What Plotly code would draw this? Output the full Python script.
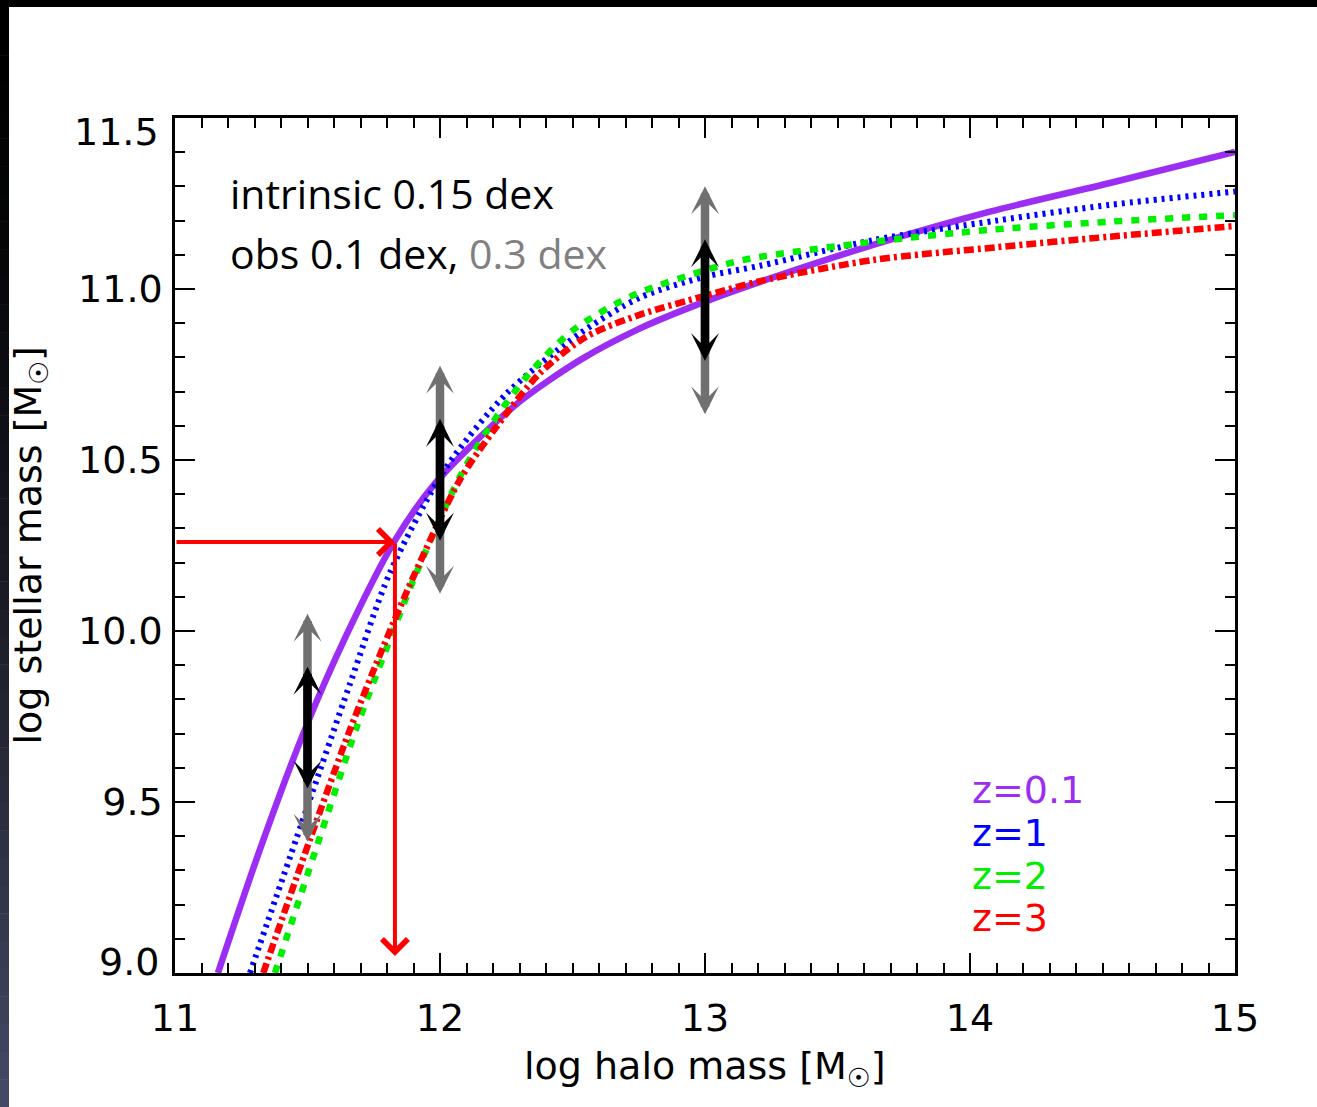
import numpy as np
import plotly.graph_objects as go

# Stellar mass - halo mass relations (log10 M_sun) at four redshifts
mh_z01 = [11.162, 11.32, 11.484, 11.648, 11.83, 11.98, 12.277, 12.528, 12.755, 13.0, 13.208, 13.635, 14.075, 14.528, 15.0]
ms_z01 = [9.00, 9.36, 9.70, 9.99, 10.265, 10.43, 10.656, 10.792, 10.885, 10.963, 11.021, 11.129, 11.226, 11.31, 11.401]

mh_z1 = [11.283, 11.497, 11.66, 11.811, 12.025, 12.252, 12.528, 12.755, 13.0, 13.208, 13.635, 14.1, 14.528, 15.0]
ms_z1 = [9.00, 9.48, 9.845, 10.17, 10.48, 10.695, 10.87, 10.975, 11.036, 11.068, 11.143, 11.20, 11.246, 11.285]

mh_z2 = [11.377, 11.535, 11.686, 11.786, 11.90, 12.075, 12.189, 12.327, 12.503, 12.73, 13.006, 13.157, 13.635, 14.075, 14.528, 15.0]
ms_z2 = [9.00, 9.37, 9.72, 9.925, 10.15, 10.451, 10.598, 10.744, 10.88, 10.982, 11.056, 11.087, 11.138, 11.173, 11.197, 11.216]

mh_z3 = [11.333, 11.509, 11.66, 11.786, 11.90, 12.075, 12.214, 12.377, 12.553, 12.755, 13.0, 13.208, 13.635, 14.1, 14.528, 15.0]
ms_z3 = [9.00, 9.39, 9.711, 9.954, 10.159, 10.442, 10.598, 10.754, 10.861, 10.925, 10.98, 11.023, 11.085, 11.122, 11.153, 11.184]

redshift_labels = ["z=0.1", "z=1", "z=2", "z=3"]
curve_colors = ["#9b2ef2", "#0000ff", "#00ee00", "#ff0000"]

# Scatter budget (dex)
sigma_intrinsic = 0.15
sigma_obs = [0.1, 0.3]

# Halo masses where the scatter is illustrated, and the relation there
arrow_mh = [11.5, 12.0, 13.0]
arrow_ms = [9.715, 10.44, 10.965]

# Reading a halo mass off the relation
read_ms = 10.26
read_mh = 11.83
read_from_mh = 11.0
read_to_ms = 9.05

x_ticks = [11, 12, 13, 14, 15]
y_ticks = [9.0, 9.5, 10.0, 10.5, 11.0, 11.5]

W, H = 1317, 1107
L, R, T, B = 175, 82, 118, 134
PW, PH = W - L - R, H - T - B


def paper_x(px):
    return (px - L) / PW


def paper_y(py):
    return (H - B - py) / PH


fig = go.Figure()

styles = [
    dict(width=6.5, dash="solid"),
    dict(width=6, dash="3px,5px"),
    dict(width=6.5, dash="8px,9px"),
    dict(width=6.5, dash="10px,4px,3px,4px"),
]
for mh, ms, col, st, name in zip(
    [mh_z01, mh_z1, mh_z2, mh_z3],
    [ms_z01, ms_z1, ms_z2, ms_z3],
    curve_colors, styles, redshift_labels,
):
    fig.add_trace(go.Scatter(
        x=mh, y=ms, mode="lines", name=name, showlegend=False,
        line=dict(color=col, width=st["width"], dash=st["dash"], shape="spline", smoothing=0.8),
        hoverinfo="skip",
    ))

annotations = []

# double-headed scatter arrows: total = intrinsic (+) observational in quadrature
for sig, col in [(sigma_obs[1], "#707070"), (sigma_obs[0], "#000000")]:
    half = float(np.hypot(sigma_intrinsic, sig))
    for mh, ms in zip(arrow_mh, arrow_ms):
        annotations.append(dict(
            x=mh, y=ms + half, ax=mh, ay=ms - half,
            xref="x", yref="y", axref="x", ayref="y",
            text="", showarrow=True, arrowside="end+start",
            arrowhead=3, startarrowhead=3, arrowsize=0.55, startarrowsize=0.55,
            arrowwidth=8.5, arrowcolor=col, standoff=0, startstandoff=0,
        ))

# red read-off arrows
for x_tip, y_tip, x_tail, y_tail in [
    (read_mh, read_ms, read_from_mh, read_ms),
    (read_mh, read_to_ms, read_mh, read_ms),
]:
    annotations.append(dict(
        x=x_tip, y=y_tip, ax=x_tail, ay=y_tail,
        xref="x", yref="y", axref="x", ayref="y",
        text="", showarrow=True, arrowhead=4, arrowsize=1.25, arrowwidth=4,
        arrowcolor="#ff0000", standoff=0,
    ))

# scatter description
txt_font = dict(family="Open Sans", size=41, color="#000000")
annotations.append(dict(
    x=11.2, y=11.281, xref="x", yref="y", xanchor="left", yanchor="middle",
    text=f"intrinsic {sigma_intrinsic:g} dex", showarrow=False, font=txt_font,
))
annotations.append(dict(
    x=11.2, y=11.105, xref="x", yref="y", xanchor="left", yanchor="middle",
    text=f"obs {sigma_obs[0]:g} dex, <span style='color:#808080'>{sigma_obs[1]:g} dex</span>",
    showarrow=False, font=txt_font,
))

# redshift key
key_y = [9.535, 9.409, 9.284, 9.161]
for lab, col, yy in zip(redshift_labels, curve_colors, key_y):
    annotations.append(dict(
        x=14.0, y=yy, xref="x", yref="y", xanchor="left", yanchor="middle",
        text=lab, showarrow=False,
        font=dict(family="DejaVu Sans", size=38, color=col),
    ))

# end labels of the y axis sit just inside the frame
tick_font = dict(family="DejaVu Sans", size=38, color="#000000")
for val, shift in [(y_ticks[-1], -14), (y_ticks[0], 11)]:
    annotations.append(dict(
        x=paper_x(161), y=val, xref="paper", yref="y", xanchor="right", yanchor="middle",
        yshift=shift, text=f"{val:.1f}", showarrow=False, font=tick_font,
    ))

# axis titles
ax_font = dict(family="DejaVu Sans", size=38, color="#000000")
annotations.append(dict(
    x=0.5, y=paper_y(1068), xref="paper", yref="paper", xanchor="center", yanchor="middle",
    text="log halo mass [M<sub>☉</sub>]", showarrow=False, font=ax_font,
))
annotations.append(dict(
    x=paper_x(30), y=0.5, xref="paper", yref="paper", xanchor="center", yanchor="middle",
    text="log stellar mass [M<sub>☉</sub>]", textangle=-90, showarrow=False, font=ax_font,
))

# dark slide frame along the top and left edges
shapes = [dict(type="rect", xref="paper", yref="paper",
               x0=paper_x(0), x1=paper_x(W), y0=paper_y(7), y1=paper_y(0),
               fillcolor="#000000", line=dict(width=0), layer="above")]
n_band = 40
for i in range(n_band):
    t = (i + 0.5) / n_band
    f = t ** 1.6
    c = (int(72 * f), int(75 * f), int(104 * f))
    shapes.append(dict(
        type="rect", xref="paper", yref="paper",
        x0=paper_x(0), x1=paper_x(9),
        y0=paper_y((i + 1) * H / n_band + 0.5), y1=paper_y(i * H / n_band),
        fillcolor=f"rgb{c}", line=dict(width=0), layer="above",
    ))

axis_common = dict(
    showline=True, linewidth=2.5, linecolor="#000000", mirror="allticks",
    ticks="inside", ticklen=20, tickwidth=2, tickcolor="#000000",
    showgrid=False, zeroline=False, tickfont=tick_font,
)

fig.update_xaxes(
    range=[11, 15], tickvals=x_ticks, ticktext=[str(v) for v in x_ticks],
    minor=dict(ticks="inside", ticklen=10, tickwidth=2, tickcolor="#000000", dtick=0.1, showgrid=False),
    ticklabelstandoff=10, **axis_common,
)
inner_y = [f"{v:.1f}" if 0 < i < len(y_ticks) - 1 else "" for i, v in enumerate(y_ticks)]
fig.update_yaxes(
    range=[9, 11.5], tickvals=y_ticks, ticktext=inner_y,
    minor=dict(ticks="inside", ticklen=10, tickwidth=2, tickcolor="#000000", dtick=0.1, showgrid=False),
    ticklabelstandoff=2, **axis_common,
)

fig.update_layout(
    width=W, height=H, autosize=False,
    margin=dict(l=L, r=R, t=T, b=B),
    paper_bgcolor="#ffffff", plot_bgcolor="#ffffff",
    annotations=annotations, shapes=shapes, showlegend=False,
)

fig.write_html("out.html")
